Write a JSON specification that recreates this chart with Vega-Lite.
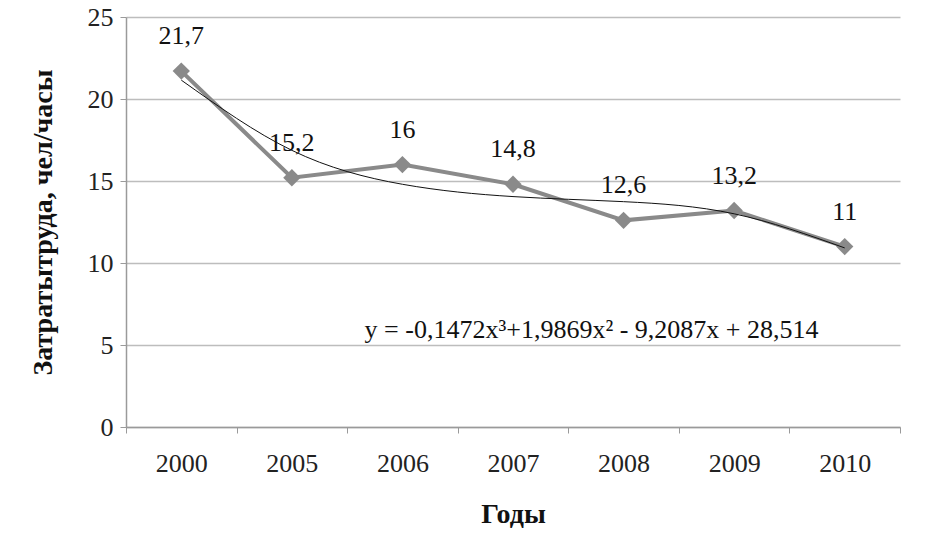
{
  "$schema": "https://vega.github.io/schema/vega-lite/v6.json",
  "width": 774,
  "height": 410,
  "autosize": {"type": "none"},
  "padding": {"left": 126, "top": 17, "right": 30, "bottom": 125},
  "background": "white",
  "config": {"view": {"stroke": null}, "font": "Times New Roman, Liberation Serif, serif"},
  "datasets": {
    "main": [
      {"year": "2000", "value": 21.7, "label": "21,7"},
      {"year": "2005", "value": 15.2, "label": "15,2"},
      {"year": "2006", "value": 16.0, "label": "16"},
      {"year": "2007", "value": 14.8, "label": "14,8"},
      {"year": "2008", "value": 12.6, "label": "12,6"},
      {"year": "2009", "value": 13.2, "label": "13,2"},
      {"year": "2010", "value": 11.0, "label": "11"}
    ],
    "trend": [
      {"year": "2000", "trend": 21.15},
      {"year": "2005", "trend": 16.87},
      {"year": "2006", "trend": 14.80},
      {"year": "2007", "trend": 14.05},
      {"year": "2008", "trend": 13.74},
      {"year": "2009", "trend": 13.00},
      {"year": "2010", "trend": 10.92}
    ],
    "eq": [
      {"year": "2008", "value": 5.9, "label": "y = -0,1472x³+1,9869x² - 9,2087x + 28,514"}
    ]
  },
  "encoding": {
    "x": {
      "field": "year",
      "type": "ordinal",
      "bandPosition": 0.5,
      "scale": {"type": "band", "paddingInner": 0, "paddingOuter": 0, "domain": ["2000", "2005", "2006", "2007", "2008", "2009", "2010"]},
      "axis": {
        "title": "Годы",
        "titleFont": "Times New Roman, Liberation Serif, serif",
        "titleFontSize": 28,
        "titleFontWeight": "bold",
        "titleColor": "#111",
        "titlePadding": 24,
        "labelFont": "Times New Roman, Liberation Serif, serif",
        "labelAngle": 0,
        "labelFontSize": 26,
        "labelColor": "#222",
        "labelPadding": 17,
        "tickBand": "extent",
        "tickSize": 6,
        "tickColor": "#9a9a9a",
        "domainColor": "#9a9a9a",
        "domainWidth": 1.5,
        "grid": false
      }
    }
  },
  "layer": [
    {
      "data": {"name": "main"},
      "mark": {"type": "line", "color": "#8a8a8a", "strokeWidth": 4},
      "encoding": {
        "y": {
          "field": "value",
          "type": "quantitative",
          "scale": {"domain": [0, 25], "nice": false, "zero": true},
          "axis": {
            "title": "Затратытруда, чел/часы",
            "titleFont": "Times New Roman, Liberation Serif, serif",
            "titleFontSize": 28,
            "titleFontWeight": "bold",
            "titleColor": "#111",
            "titleX": -83,
            "titleY": 205,
            "titleAlign": "center",
            "titleBaseline": "middle",
            "values": [0, 5, 10, 15, 20, 25],
            "labelFont": "Times New Roman, Liberation Serif, serif",
            "labelFontSize": 26,
            "labelColor": "#222",
            "labelPadding": 7,
            "tickSize": 6,
            "tickColor": "#9a9a9a",
            "domainColor": "#9a9a9a",
            "domainWidth": 1.5,
            "grid": true,
            "gridColor": "#bdbdbd",
            "gridWidth": 1.5
          }
        }
      }
    },
    {
      "data": {"name": "main"},
      "mark": {"type": "point", "shape": "diamond", "filled": true, "color": "#8a8a8a", "size": 300, "opacity": 1},
      "encoding": {"y": {"field": "value", "type": "quantitative"}}
    },
    {
      "data": {"name": "trend"},
      "mark": {"type": "line", "color": "#111111", "strokeWidth": 1, "interpolate": "natural"},
      "encoding": {"y": {"field": "trend", "type": "quantitative"}}
    },
    {
      "data": {"name": "main"},
      "mark": {"type": "text", "font": "Times New Roman, Liberation Serif, serif", "fontSize": 26, "color": "#111", "baseline": "alphabetic", "dy": -27},
      "encoding": {"y": {"field": "value", "type": "quantitative"}, "text": {"field": "label"}}
    },
    {
      "data": {"name": "eq"},
      "mark": {"type": "text", "font": "Times New Roman, Liberation Serif, serif", "fontSize": 26, "color": "#111", "baseline": "alphabetic", "align": "center", "dx": -32, "dy": 8},
      "encoding": {"y": {"field": "value", "type": "quantitative"}, "text": {"field": "label"}}
    }
  ]
}
